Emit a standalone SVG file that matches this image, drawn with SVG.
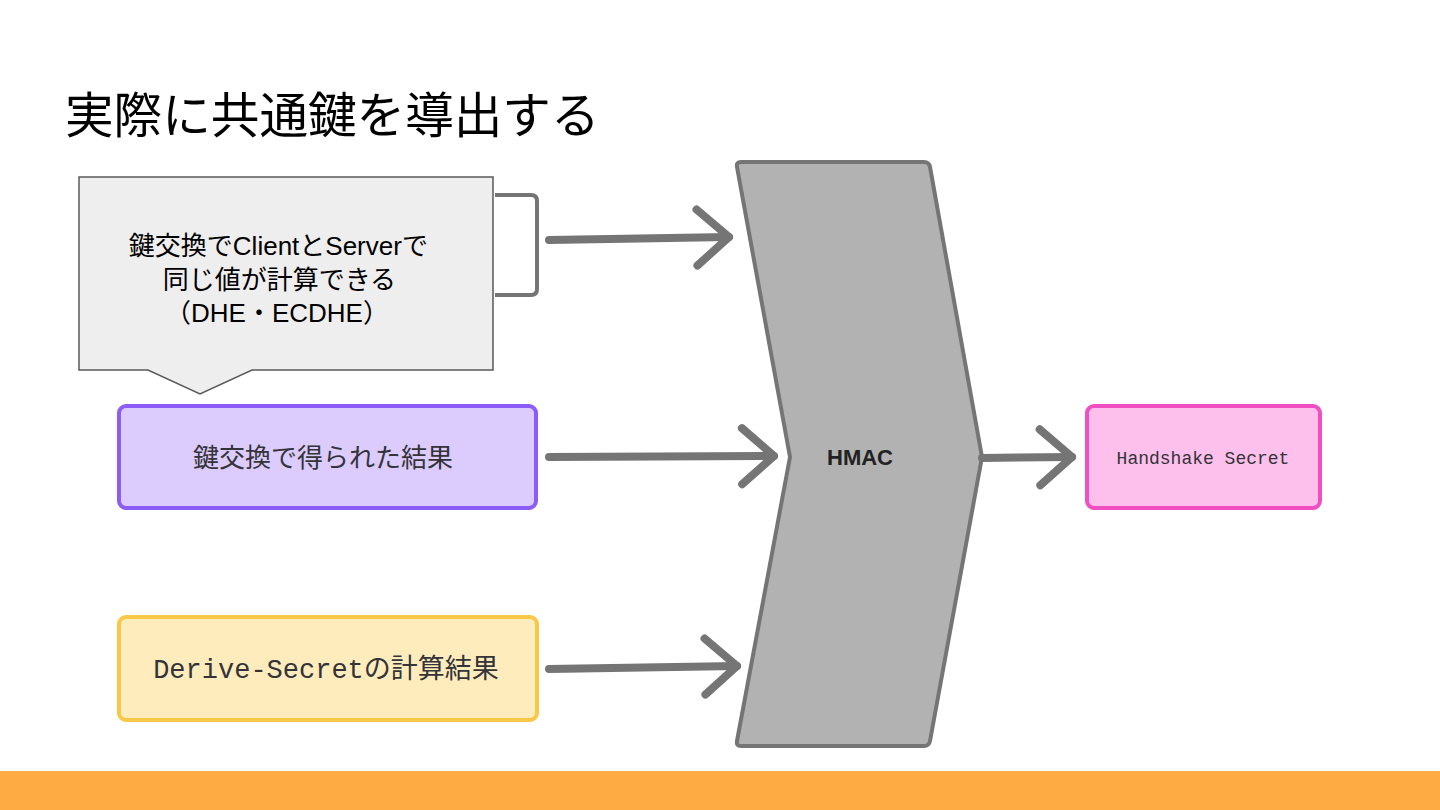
<svg xmlns="http://www.w3.org/2000/svg" width="1440" height="810" viewBox="0 0 1440 810">
<style>
.jp{font-family:"Liberation Sans","Noto Sans CJK JP",sans-serif;}
.mono{font-family:"Liberation Mono","Noto Sans CJK JP",monospace;}
.conn{fill:none;stroke:#757575;stroke-width:8;stroke-linecap:round;stroke-linejoin:round;}
.dark{fill:#333338;}
</style>
<defs>
<marker id="chev" viewBox="-40 -35 48 70" refX="0" refY="0" markerWidth="48" markerHeight="70" markerUnits="userSpaceOnUse" orient="auto" overflow="visible">
<path d="M-32,-28 L0,0 L-32,28" fill="none" stroke="#757575" stroke-width="8" stroke-linecap="round" stroke-linejoin="round"/>
</marker>
</defs>
<rect width="1440" height="810" fill="#ffffff"/>
<text x="65" y="133" class="jp" font-size="48.6" fill="#000">実際に共通鍵を導出する</text>

<g id="callout">
<path d="M79,177 L493,177 L493,370 L252,370 L200,394 L148,370 L79,370 Z" fill="#eeeeee" stroke="#595959" stroke-width="1.5"/>
<text class="jp" font-size="26" fill="#000" text-anchor="middle">
<tspan x="282" y="255">鍵交換でClientとServerで</tspan>
<tspan x="283" y="289">同じ値が計算できる</tspan>
<tspan x="277" y="322">（DHE・ECDHE）</tspan>
</text>
</g>

<g id="kex-result">
<rect x="119" y="406" width="417" height="102" rx="7" fill="#dccbfd" stroke="#8b5cf6" stroke-width="4"/>
<text x="323" y="467" class="jp dark" font-size="26" text-anchor="middle">鍵交換で得られた結果</text>
</g>

<g id="derive-secret">
<rect x="119" y="617" width="418" height="103" rx="7" fill="#feecbd" stroke="#f8c846" stroke-width="4"/>
<text x="326" y="678" class="mono dark" font-size="27" text-anchor="middle">Derive-Secretの計算結果</text>
</g>

<g id="hmac">
<path d="M741,162 L924,162 Q929,162 930,167 L982,457 L930,741 Q929,746 924,746 L741,746 Q736,746 737,741 L790,457 L737,167 Q736,162 741,162 Z" fill="#b2b2b2" stroke="#757575" stroke-width="4" stroke-linejoin="round"/>
<text x="860" y="465" font-family="Liberation Sans, sans-serif" font-weight="bold" font-size="22" fill="#222" text-anchor="middle">HMAC</text>
</g>

<g id="handshake-secret">
<rect x="1087" y="406" width="233" height="102" rx="7" fill="#fdc0ec" stroke="#ef4fc1" stroke-width="4"/>
<text x="1203" y="464" class="mono dark" font-size="18" text-anchor="middle">Handshake Secret</text>
</g>

<g id="connectors">
<path d="M495,195 L531,195 Q537,195 537,201 L537,289 Q537,295 531,295 L495,295" fill="none" stroke="#757575" stroke-width="4"/>
<path class="conn" d="M549,240 L729,237" marker-end="url(#chev)"/>
<path class="conn" d="M549,457 L774,456" marker-end="url(#chev)"/>
<path class="conn" d="M549,669 L737,666" marker-end="url(#chev)"/>
<path class="conn" d="M982,458 L1072,457" marker-end="url(#chev)"/>
</g>

<rect x="0" y="771" width="1440" height="39" fill="#fdab42"/>
</svg>
